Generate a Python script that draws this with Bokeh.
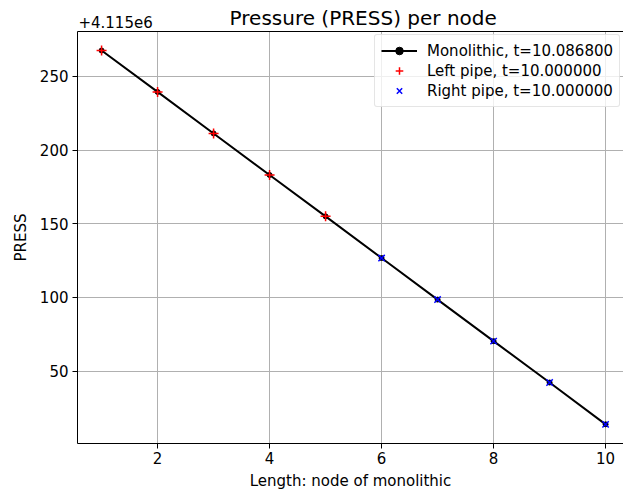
from bokeh.plotting import figure
from bokeh.models import FixedTicker, Legend, LegendItem, Range1d, LinearAxis
from bokeh.embed import file_html
from bokeh.resources import INLINE

OFFSET = 4.115e6
nodes = [1, 2, 3, 4, 5, 6, 7, 8, 9, 10]
mono = [OFFSET + v for v in [267.6, 239.5, 211.3, 183.1, 155.0, 126.7, 98.5, 70.3, 42.2, 13.8]]
left_x = [1, 2, 3, 4, 5]
left_y = [OFFSET + v for v in [267.6, 239.5, 211.3, 183.1, 155.0]]
right_x = [6, 7, 8, 9, 10]
right_y = [OFFSET + v for v in [126.7, 98.5, 70.3, 42.2, 13.8]]
x_ticks = [2, 4, 6, 8, 10]
y_ticks = [50, 100, 150, 200, 250]
offset_text = "+4.115e6"
title_text = "Pressure (PRESS) per node"

FONT = "DejaVu Sans"
X0, X1 = 0.57, 10.32
OFFSET_POS = 1.25

p = figure(width=623, height=493, output_backend="svg", toolbar_location=None,
           x_range=Range1d(X0, X1), y_range=Range1d(0.8, 280.5),
           min_border_left=77, min_border_right=0, min_border_top=31, min_border_bottom=50)

p.outline_line_color = None

xa = p.below[0]
ya = p.left[0]

# top spine carrying the offset text and the title
top_axis = LinearAxis(major_tick_line_color=None, minor_tick_line_color=None,
                      axis_line_color="black", major_tick_out=0, major_tick_in=0,
                      major_label_standoff=4,
                      major_label_text_font=FONT, major_label_text_font_size="15px",
                      major_label_text_color="black",
                      ticker=FixedTicker(ticks=[OFFSET_POS]),
                      major_label_overrides={OFFSET_POS: offset_text},
                      axis_label="\u00a0\u00a0\u00a0\u00a0" + title_text,
                      axis_label_text_font=FONT, axis_label_text_font_size="20px",
                      axis_label_text_font_style="normal", axis_label_text_color="black",
                      axis_label_standoff=-17)
p.add_layout(top_axis, "above")

for ax in (xa, ya):
    ax.major_label_text_font = FONT
    ax.major_label_text_font_size = "15px"
    ax.major_label_text_color = "black"
    ax.axis_label_text_font = FONT
    ax.axis_label_text_font_size = "15px"
    ax.axis_label_text_font_style = "normal"
    ax.axis_label_text_color = "black"
    ax.minor_tick_line_color = None
    ax.major_tick_in = 0
    ax.major_tick_out = 5
    ax.major_tick_line_color = "black"
    ax.axis_line_color = "black"
    ax.major_label_standoff = 4

xa.axis_label = "Length: node of monolithic"
ya.axis_label = "PRESS"
xa.ticker = FixedTicker(ticks=x_ticks)
ya.ticker = FixedTicker(ticks=y_ticks)
xa.major_label_standoff = 3
xa.axis_label_standoff = 5
ya.axis_label_standoff = 7

p.grid.grid_line_color = "#b0b0b0"
p.grid.grid_line_width = 1

mono_rel = [v - OFFSET for v in mono]
left_rel = [v - OFFSET for v in left_y]
right_rel = [v - OFFSET for v in right_y]

l1 = p.line(nodes, mono_rel, line_color="black", line_width=2)
d1 = p.scatter(nodes, mono_rel, marker="circle", size=5, fill_color="black", line_color="black")
s2 = p.scatter(left_x, left_rel, marker="cross", size=10, line_color="red", line_width=1.5)
s3 = p.scatter(right_x, right_rel, marker="x", size=9, line_color="blue", line_width=1.5)

legend = Legend(items=[
    LegendItem(label="Monolithic, t=10.086800", renderers=[l1, d1]),
    LegendItem(label="Left pipe, t=10.000000", renderers=[s2]),
    LegendItem(label="Right pipe, t=10.000000", renderers=[s3]),
], location=(297, 336))
legend.label_text_font = FONT
legend.label_text_font_size = "15px"
legend.label_text_color = "black"
legend.glyph_width = 36
legend.glyph_height = 19
legend.label_height = 19
legend.label_standoff = 10
legend.spacing = 1
legend.padding = 6
legend.margin = 0
legend.border_line_color = "#cccccc"
legend.border_radius = 3
legend.background_fill_alpha = 0.8
p.add_layout(legend)

open("out.html", "w").write(file_html(p, INLINE))
